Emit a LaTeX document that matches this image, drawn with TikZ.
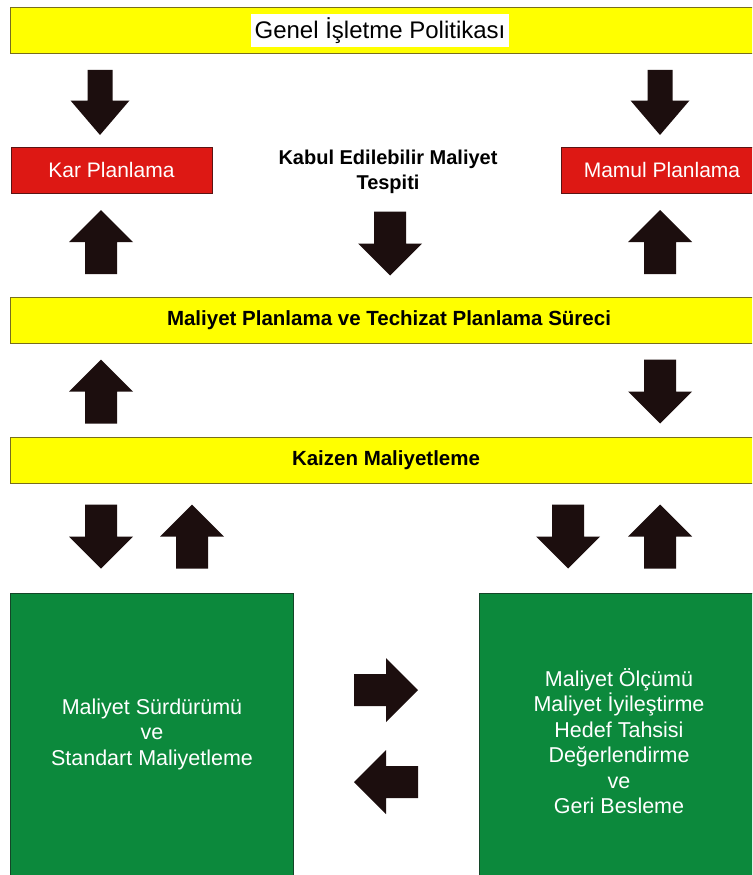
\documentclass[tikz,border=0pt]{standalone}
\usepackage{fontspec}
\setmainfont{Liberation Sans}
\definecolor{baryellow}{RGB}{255,255,0}
\definecolor{barline}{RGB}{120,110,30}
\definecolor{planred}{RGB}{221,24,20}
\definecolor{planline}{RGB}{90,20,20}
\definecolor{procgreen}{RGB}{12,137,60}
\definecolor{procline}{RGB}{20,70,40}
\definecolor{arrowfill}{RGB}{28,14,14}
\begin{document}
\begin{tikzpicture}[x=1pt,y=-1pt,
  bar/.style={draw=barline, line width=1.2pt, fill=baryellow, anchor=north west,
    minimum width=755pt, minimum height=46pt, inner sep=0pt},
  bartext/.style={font=\bfseries\fontsize{20.5}{24}\selectfont, inner sep=0pt},
  planbox/.style={draw=planline, line width=0.8pt, fill=planred, text=white,
    minimum width=201pt, minimum height=46pt, inner sep=0pt,
    font=\fontsize{21}{24}\selectfont},
  procbox/.style={draw=procline, line width=0.8pt, fill=procgreen, anchor=north west,
    minimum height=290pt, inner sep=0pt},
  proctext/.style={text=white, align=center, inner sep=0pt,
    font=\fontsize{21.5}{25.5}\selectfont},
  pics/bigarrow/.style={code={
    \fill[arrowfill] (-32,-16) -- (0,-16) -- (0,-32) -- (32,0) -- (0,32)
      -- (0,16) -- (-32,16) -- cycle;}},
  pics/slimarrow/.style={code={
    \fill[arrowfill] (-32.5,-12.5) -- (-2,-12.5) -- (-2,-29.5) -- (32.5,0)
      -- (-2,29.5) -- (-2,12.5) -- (-32.5,12.5) -- cycle;}},
]
\useasboundingbox (0,0) rectangle (752,875);
\clip (0,0) rectangle (752,875);
\fill[white] (0,0) rectangle (752,875);

% policy bar on top
\node[bar] (policy) at (10,7) {};
\node[fill=white, inner xsep=4pt, inner ysep=0pt, minimum height=33pt,
  font=\fontsize{24}{28}\selectfont] (policytext) at (380,31) {Genel İşletme Politikası};

% planning boxes and accepted cost
\node[planbox] (profit) at (111.5,170) {Kar Planlama};
\node[planbox] (product) at (662,170) {Mamul Planlama};
\node[bartext, align=center, font=\bfseries\fontsize{20}{25}\selectfont] (target) at (388,172)
  {Kabul Edilebilir Maliyet\\Tespiti};

% process bars
\node[bar] (process) at (10,297) {};
\node[bartext] (processtext) at (389,320) {Maliyet Planlama ve Techizat Planlama Süreci};
\node[bar] (kaizen) at (10,437) {};
\node[bartext] (kaizentext) at (386,460) {Kaizen Maliyetleme};

% cost maintenance and measurement blocks
\node[procbox, minimum width=283pt] (maintain) at (10,593) {};
\node[proctext] (maintaintext) at (152,734)
  {Maliyet Sürdürümü\\ve\\Standart Maliyetleme};
\node[procbox, minimum width=290pt] (measure) at (479,593) {};
\node[proctext] (measuretext) at (619,741)
  {Maliyet Ölçümü\\Maliyet İyileştirme\\Hedef Tahsisi\\Değerlendirme\\ve\\Geri Besleme};

% block arrows
\pic[rotate=-90] (a1) at (100,102.5) {slimarrow};
\pic[rotate=-90] (a2) at (660,102.5) {slimarrow};
\pic[rotate=90] (a3) at (101,242) {bigarrow};
\pic[rotate=-90] (a4) at (390,243.5) {bigarrow};
\pic[rotate=90] (a5) at (660,242) {bigarrow};
\pic[rotate=90] (a6) at (101,391.5) {bigarrow};
\pic[rotate=-90] (a7) at (660,391.5) {bigarrow};
\pic[rotate=-90] (a8) at (101,536.5) {bigarrow};
\pic[rotate=90] (a9) at (192,536.5) {bigarrow};
\pic[rotate=-90] (a10) at (568,536.5) {bigarrow};
\pic[rotate=90] (a11) at (660,536.5) {bigarrow};
\pic (a12) at (386,690) {bigarrow};
\pic[rotate=180] (a13) at (386,782) {bigarrow};
\end{tikzpicture}
\end{document}
